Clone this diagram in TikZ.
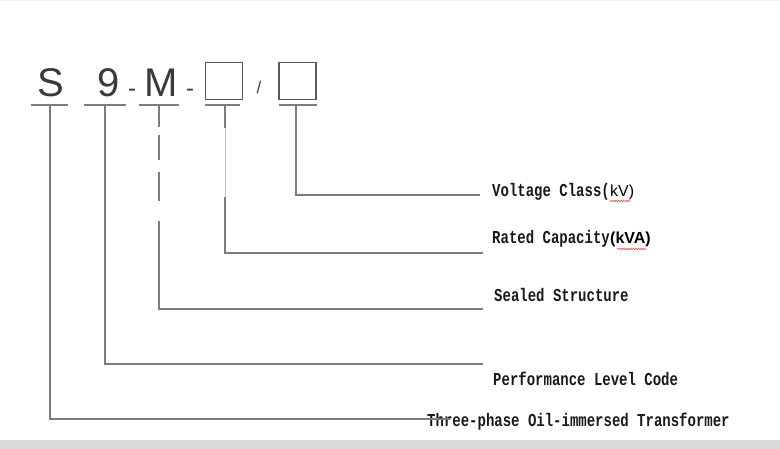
\documentclass[tikz,border=0pt]{standalone}
\usepackage{fontspec}
\usepackage{tikz}
\usetikzlibrary{calc, positioning, decorations.pathmorphing}
\setmainfont{Liberation Mono}
\newfontfamily\symfont{Liberation Sans}
\definecolor{linegray}{HTML}{7C7C7C}
\definecolor{symgray}{HTML}{3A3A3A}
\definecolor{bandgray}{HTML}{D9D9D9}
\tikzstyle{symbol}=[inner sep=0pt, anchor=base, text=symgray, font=\symfont\fontsize{40}{40}\selectfont]
\tikzstyle{small symbol}=[symbol, font=\symfont\fontsize{24}{24}\selectfont]
\tikzstyle{blank box}=[draw=black!65, line width=1.1pt, minimum width=37pt, minimum height=37pt, inner sep=0pt]
\tikzstyle{underline}=[draw=linegray, line width=1.6pt]
\tikzstyle{lead}=[draw=linegray, line width=1.4pt]
\tikzstyle{annot}=[anchor=base west, inner sep=0pt, text=black!90, font=\bfseries\fontsize{14}{14}\selectfont, yscale=1.3, transform shape]
\tikzstyle{unit}=[anchor=base west, inner sep=0pt, font=\symfont\fontsize{16}{16}\selectfont]
\tikzstyle{bold unit}=[unit, font=\symfont\bfseries\fontsize{16}{16}\selectfont]
\tikzstyle{squiggle}=[draw=red!75, line width=0.6pt, decorate, decoration={snake, amplitude=0.7pt, segment length=2.6pt}]

\begin{document}
\begin{tikzpicture}[x=1pt, y=-1pt]
			\useasboundingbox (0,0) rectangle (780,449);
			\fill[black!5] (0,0) rectangle (780,1.5);
			\fill[bandgray] (0,440) rectangle (780,449);

			% Draw the model code
			\node[symbol] (S) at (51,97) {S};
			\node[symbol] (nine) at (109,97) {9};
			\node[small symbol] (dash-1) at (132,97) {-};
			\node[symbol] (M) at (161,97) {M};
			\node[small symbol] (dash-2) at (190,97) {-};
			\node[blank box] (box1) at (224,81) {};
			\node[symbol, font=\symfont\fontsize{17}{17}\selectfont] (slash) at (259,94) {/};
			\node[blank box] (box2) at (297.5,81) {};

			% Underline every part and mark where its lead starts
			\foreach \name / \xa / \xb / \xt in {S/31/68/50, nine/84/126/105, M/139/179/159, box1/205/240/225, box2/279/317/296}
			{
			\draw[underline] (\xa,105) -- (\xb,105);
			\coordinate (T-\name) at (\xt,105);
			}

			% Free ends of the leads
			\coordinate (E-volt) at (480,195);
			\coordinate (E-rated) at (483,253);
			\coordinate (E-sealed) at (483,309);
			\coordinate (E-perf) at (483,364);
			\coordinate (E-three) at (450,419);

			% Annotate the parts
			\node[annot] (volt) at (492,197) {Voltage Class(};
			\node[unit] (volt-unit) at (volt.base east) {kV)};
			\node[annot] (rated) at (492,244) {Rated Capacity};
			\node[bold unit] (rated-unit) at (rated.base east) {(kVA)};
			\node[annot] (sealed) at (494,302) {Sealed Structure};
			\node[annot] (perf) at (493,385) {Performance Level Code};
			\node[annot] (three) at (427,426) {Three-phase Oil-immersed Transformer};

			% Connect every part with its annotation
			\draw[lead] (T-box2) |- (E-volt);
			\draw[black!25, line width=0.6pt] (T-box1) |- (E-rated);
			\draw[lead, dash pattern=on 23pt off 69pt on 600pt] (T-box1) |- (E-rated);
			\draw[lead, dash pattern=on 22pt off 8pt on 25pt off 12pt on 29pt off 20pt on 600pt] (T-M) |- (E-sealed);
			\draw[lead] (T-nine) |- (E-perf);
			\draw[lead] (T-S) |- (E-three);

			% Spell-check marks
			\draw[squiggle] ([yshift=-4pt]volt-unit.base west) -- ([yshift=-4pt, xshift=-4pt]volt-unit.base east);
			\draw[squiggle] ([yshift=-5pt, xshift=7pt]rated-unit.base west) -- ([yshift=-5pt, xshift=-5pt]rated-unit.base east);
		\end{tikzpicture}
\end{document}
